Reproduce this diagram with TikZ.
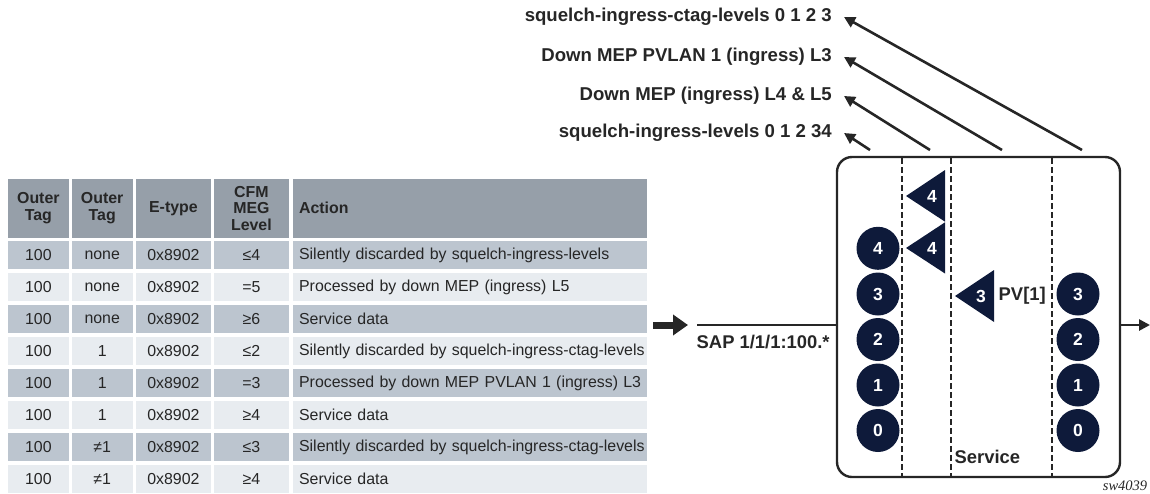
\documentclass[tikz,border=0pt]{standalone}
\usepackage{fontspec}
\setmainfont{Liberation Sans}
\newfontfamily\tagfont{Liberation Serif}
\usetikzlibrary{arrows.meta}

\definecolor{hdgray}{HTML}{969FA9}
\definecolor{rowdark}{HTML}{BCC5CF}
\definecolor{rowlight}{HTML}{E8ECF0}
\definecolor{navy}{HTML}{0E1A3A}
\definecolor{ink}{HTML}{262626}

\begin{document}
\begin{tikzpicture}[
    x=1pt, y=-1pt,
    hdcell/.style={fill=hdgray, text=ink, inner sep=0pt, anchor=north west,
                   minimum height=59.4pt, align=center,
                   font=\fontsize{15.9}{16.5}\selectfont\bfseries},
    cell/.style={text=ink, inner sep=0pt, anchor=north west,
                 minimum height=28pt, font=\fontsize{15.9}{17}\selectfont},
    actcell/.style={text width=341pt, inner xsep=6.6pt, align=left},
    toplbl/.style={text=ink, inner sep=0pt, anchor=east,
                   font=\fontsize{18.6}{20}\selectfont\bfseries},
    boldlbl/.style={text=ink, inner sep=0pt, anchor=west,
                    font=\fontsize{18.4}{20}\selectfont\bfseries},
    lvl/.style={circle, fill=navy, text=white, minimum size=43pt, inner sep=0pt,
                font=\fontsize{17.5}{18}\selectfont\bfseries},
    mepnum/.style={text=white, inner sep=0pt,
                   font=\fontsize{17.5}{18}\selectfont\bfseries},
    ptr/.style={ink, line width=2.6pt, -{Triangle[length=11pt, width=11pt]}},
    fat/.style={ink, line width=7pt, -{Triangle[length=15pt, width=20pt]}},
    dashline/.style={ink, line width=2.2pt, dash pattern=on 6pt off 3pt}
]
\useasboundingbox (0,0) rectangle (1150,493);

% =========================================================
% TABLE: header row
% =========================================================
\node[hdcell, minimum width=61.7pt] (h1) at (7.3,178.3) {Outer\\Tag};
\node[hdcell, minimum width=60.6pt] (h2) at (71.7,178.3) {Outer\\Tag};
\node[hdcell, minimum width=75pt] (h3) at (135.7,178.3) {E-type};
\node[hdcell, minimum width=75pt] (h4) at (213.7,178.3) {CFM\\MEG\\Level};
\node[hdcell, actcell] (h5) at (292.3,178.3) {Action};

% body rows, dark and light in turn
\foreach \fc/\oa/\ob/\et/\lv/\ac [count=\r] in {
    rowdark/100/none/0x8902/≤4/Silently discarded by squelch-ingress-levels,
    rowlight/100/none/0x8902/=5/Processed by down MEP (ingress) L5,
    rowdark/100/none/0x8902/≥6/Service data,
    rowlight/100/1/0x8902/≤2/Silently discarded by squelch-ingress-ctag-levels,
    rowdark/100/1/0x8902/=3/Processed by down MEP PVLAN 1 (ingress) L3,
    rowlight/100/1/0x8902/≥4/Service data,
    rowdark/100/≠1/0x8902/≤3/Silently discarded by squelch-ingress-ctag-levels,
    rowlight/100/≠1/0x8902/≥4/Service data} {
  \pgfmathsetmacro\ytop{241+32*(\r-1)}
  \node[cell, fill=\fc, minimum width=61.7pt] (a\r) at (7.3,\ytop) {\oa};
  \node[cell, fill=\fc, minimum width=60.6pt] (b\r) at (71.7,\ytop) {\ob};
  \node[cell, fill=\fc, minimum width=75pt] (c\r) at (135.7,\ytop) {\et};
  \node[cell, fill=\fc, minimum width=75pt] (d\r) at (213.7,\ytop) {\lv};
  \node[cell, actcell, fill=\fc] (e\r) at (292.3,\ytop) {\mbox{\ac}};
}

% =========================================================
% SERVICE BOX
% =========================================================
\node[draw=ink, line width=2.4pt, rounded corners=15pt, inner sep=0pt,
      minimum width=283pt, minimum height=320pt] (svc) at (978.5,317) {};

\foreach \xd in {902,951,1052}
  \draw[dashline] (\xd,158) -- (\xd,476);

% ingress and egress MEP/MIP levels
\foreach \n/\yy in {4/248.3,3/294,2/339.5,1/385,0/430.5}
  \node[lvl] (in\n) at (878,\yy) {\n};
\foreach \n/\yy in {3/294,2/339.5,1/385,0/430.5}
  \node[lvl] (out\n) at (1078,\yy) {\n};

% down MEPs, pointing left
\fill[navy] (906,196) -- (945,170) -- (945,221.7) -- cycle;
\node[mepnum] (mepa) at (932,196) {4};
\fill[navy] (906,248) -- (945,222.3) -- (945,273.5) -- cycle;
\node[mepnum] (mepb) at (932,248) {4};
\fill[navy] (955,296) -- (994,270) -- (994,322) -- cycle;
\node[mepnum] (mepc) at (981,296) {3};
\node[boldlbl] (pv) at (998.5,296) {PV[1]};

\node[boldlbl] (svclbl) at (954.5,457) {Service};

% =========================================================
% SAP in and out
% =========================================================
\coordinate (fin) at (653,325);
\coordinate (fout) at (688,325);
\draw[fat] (fin) -- (fout);

\coordinate (sap) at (697,325);
\draw[ink, line width=2.6pt] (sap) -- (sap -| svc.west);
\node[boldlbl] (saplbl) at (696.5,342) {SAP 1/1/1:100.*};

\coordinate (egr) at (1150,325);
\draw[ptr] (sap -| svc.east) -- (egr);

% =========================================================
% labels on top, each pointed at from the box
% =========================================================
\node[toplbl] (q1) at (832,17) {squelch-ingress-ctag-levels 0 1 2 3};
\node[toplbl] (q2) at (832,57) {Down MEP PVLAN 1 (ingress) L3};
\node[toplbl] (q3) at (832,96) {Down MEP (ingress) L4 \& L5};
\node[toplbl] (q4) at (832,133) {squelch-ingress-levels 0 1 2 34};

\coordinate (t1) at (1082,150);
\coordinate (t2) at (1002,150);
\coordinate (t3) at (930,150);
\coordinate (t4) at (870,150);
\draw[ptr] (t1) -- ([xshift=12pt]q1.east);
\draw[ptr] (t2) -- ([xshift=12pt]q2.east);
\draw[ptr] (t3) -- ([xshift=12pt]q3.east);
\draw[ptr] (t4) -- ([xshift=12pt]q4.east);

\node[font=\fontsize{14.5}{16}\selectfont\tagfont\itshape, text=ink, inner sep=0pt]
      (fig) at (1125,486) {sw4039};

\end{tikzpicture}
\end{document}
